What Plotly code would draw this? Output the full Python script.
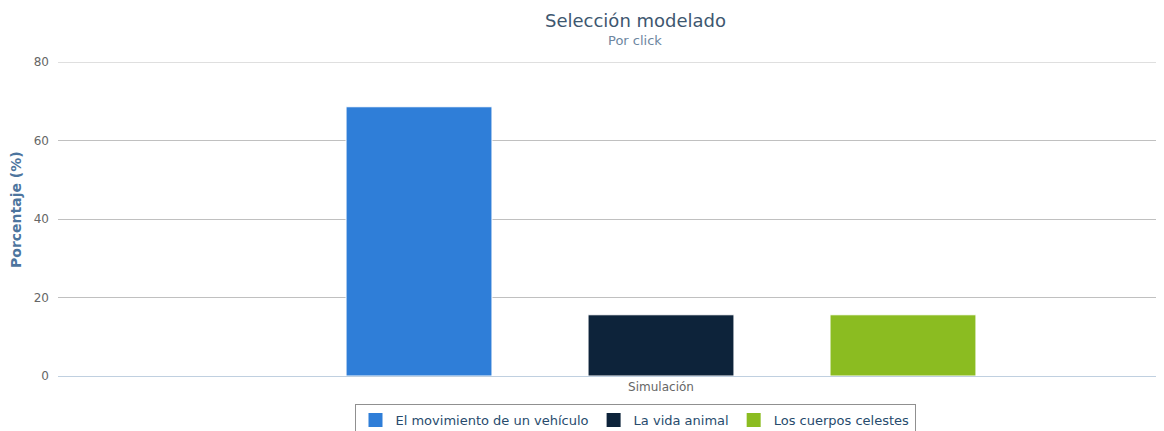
import plotly.graph_objects as go

categories = ["Simulación"]
series_names = ["El movimiento de un vehículo", "La vida animal", "Los cuerpos celestes"]
series_values = [[68.6], [15.6], [15.6]]
series_colors = ["#2F7ED8", "#0D233A", "#8BBC21"]
y_ticks = [0, 20, 40, 60, 80]

FONT = "DejaVu Sans"

fig = go.Figure()
for name, vals, col in zip(series_names, series_values, series_colors):
    fig.add_trace(go.Bar(
        x=categories, y=vals, name=name, showlegend=False,
        marker=dict(color=col, line=dict(color="white", width=1)),
    ))
# legend entries with larger square symbols
for name, col in zip(series_names, series_colors):
    fig.add_trace(go.Scatter(
        x=[None], y=[None], mode="markers", name=name,
        marker=dict(symbol="square", size=14, color=col),
    ))

OFF = 8  # page body margin
W, H = 1164 - OFF, 431 - OFF
L, R, T, B = 58 - OFF, 0, 62 - OFF, 431 - 376
pw = W - L - R
ph = H - T - B

center_px = 661
x0 = -(center_px - 58) / pw
x1 = x0 + 1

def px_x(px):
    return (px - 58) / pw

def px_y(py):
    return (376 - py) / ph

fig.update_layout(
    width=W, height=H,
    margin=dict(l=L, r=R, t=T, b=B, autoexpand=False),
    paper_bgcolor="white", plot_bgcolor="white",
    font=dict(family=FONT, color="#666666", size=12),
    barmode="group", bargap=0.3436, bargroupgap=0.397,
    showlegend=True,
    legend=dict(
        orientation="h", x=px_x(635), xanchor="center",
        y=px_y(404), yanchor="top",
        bordercolor="#909090", borderwidth=1,
        font=dict(family=FONT, size=13, color="#274b6d"),
        traceorder="normal",
    ),
    xaxis=dict(
        type="category", range=[x0, x1], showgrid=False,
        showline=True, linecolor="#C0D0E0", linewidth=1,
        ticks="", tickfont=dict(family=FONT, size=12, color="#666666"),
        fixedrange=True,
    ),
    yaxis=dict(
        range=[0, 80], tickvals=y_ticks, showgrid=True,
        gridcolor="#C0C0C0", gridwidth=1, zeroline=False,
        showline=False, ticks="", ticklabelstandoff=8,
        tickfont=dict(family=FONT, size=12, color="#666666"),
    ),
    shapes=[
        dict(type="line", xref="paper", yref="y", x0=0, x1=1,
             y0=y_ticks[-1], y1=y_ticks[-1],
             line=dict(color="#C0C0C0", width=1)),
    ],
    annotations=[
        dict(text="Selección modelado", xref="paper", yref="paper",
             x=px_x(635), y=px_y(20), xanchor="center", yanchor="middle",
             showarrow=False, font=dict(family=FONT, size=18, color="#3E576F")),
        dict(text="Por click", xref="paper", yref="paper",
             x=px_x(635), y=px_y(40), xanchor="center", yanchor="middle",
             showarrow=False, font=dict(family=FONT, size=13, color="#6D869F")),
        dict(text="<b>Porcentaje (%)</b>", xref="paper", yref="paper",
             x=px_x(16), y=px_y(210), xanchor="center", yanchor="middle",
             textangle=-90, showarrow=False,
             font=dict(family=FONT, size=14, color="#4D759E")),
    ],
)

fig.write_html("out.html")
